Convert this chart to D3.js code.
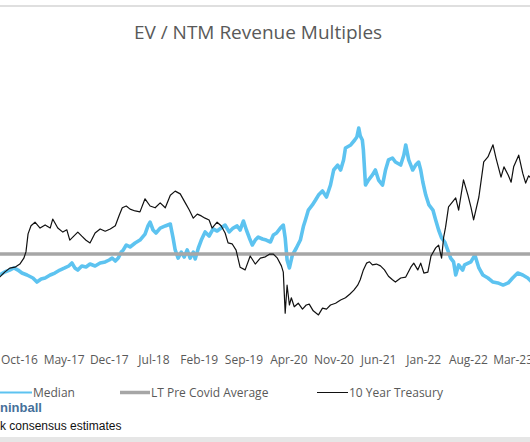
<!DOCTYPE html>
<html><head><meta charset="utf-8">
<script src="https://cdn.jsdelivr.net/npm/d3@7"></script>
<style>body{margin:0;background:#fff;overflow:hidden}svg{display:block}</style>
</head><body><svg id="c" width="530" height="442"></svg>
<script>
// ---- data ----
const medianDates = ["2016-07-02","2016-07-25","2016-08-18","2016-09-07","2016-09-26","2016-10-15","2016-11-08","2016-12-06","2016-12-25","2017-01-14","2017-02-02","2017-02-26","2017-03-20","2017-04-13","2017-05-06","2017-05-25","2017-06-09","2017-06-23","2017-07-07","2017-07-26","2017-08-15","2017-09-03","2017-09-27","2017-10-21","2017-11-14","2017-12-03","2017-12-17","2018-01-01","2018-01-15","2018-01-29","2018-02-08","2018-02-22","2018-03-12","2018-04-05","2018-04-28","2018-05-22","2018-06-05","2018-06-15","2018-06-29","2018-07-13","2018-08-02","2018-08-26","2018-09-19","2018-10-02","2018-10-12","2018-10-26","2018-11-10","2018-11-24","2018-12-08","2018-12-22","2019-01-06","2019-01-15","2019-01-30","2019-02-13","2019-03-03","2019-03-22","2019-04-10","2019-04-29","2019-05-18","2019-06-06","2019-06-25","2019-07-14","2019-08-02","2019-08-16","2019-09-01","2019-09-15","2019-09-29","2019-10-13","2019-10-27","2019-11-10","2019-11-30","2019-12-18","2020-01-07","2020-01-21","2020-02-05","2020-02-23","2020-03-08","2020-03-17","2020-03-26","2020-04-06","2020-04-20","2020-05-09","2020-05-28","2020-06-12","2020-06-21","2020-07-05","2020-07-24","2020-08-08","2020-08-22","2020-09-10","2020-09-29","2020-10-18","2020-11-02","2020-11-21","2020-12-05","2020-12-19","2020-12-28","2021-01-22","2021-02-10","2021-02-20","2021-03-01","2021-03-08","2021-03-18","2021-03-23","2021-04-02","2021-04-16","2021-05-05","2021-05-19","2021-06-03","2021-06-22","2021-07-06","2021-07-20","2021-08-08","2021-08-22","2021-09-16","2021-10-01","2021-10-10","2021-10-24","2021-11-12","2021-11-26","2021-12-10","2021-12-20","2021-12-30","2022-01-13","2022-01-28","2022-02-16","2022-03-01","2022-03-15","2022-03-29","2022-04-13","2022-04-27","2022-05-11","2022-05-25","2022-06-04","2022-06-18","2022-07-07","2022-07-16","2022-08-15","2022-09-03","2022-09-22","2022-10-11","2022-11-04","2022-11-28","2022-12-21","2023-01-15","2023-02-08","2023-03-01","2023-03-25","2023-04-18","2023-05-12","2023-06-01"];
const medianValues = [5.60,5.80,5.93,6.07,5.93,5.73,5.60,5.40,5.13,5.33,5.40,5.60,5.73,5.93,6.07,6.20,6.40,6.07,5.93,6.20,6.13,6.33,6.20,6.40,6.47,6.60,6.73,6.53,6.73,7.13,7.27,7.60,7.47,7.73,7.93,8.33,8.87,9.13,8.60,8.40,8.73,8.87,9.00,8.07,7.27,6.73,7.13,6.80,7.27,6.73,7.13,6.67,7.40,7.93,8.47,8.20,8.67,8.53,8.73,8.93,8.47,8.73,8.87,8.60,9.20,8.60,8.07,7.60,7.93,8.13,8.00,7.93,7.80,8.27,8.40,8.73,8.93,8.07,6.60,6.07,6.93,7.40,7.93,8.87,9.27,9.93,10.27,10.60,10.93,11.20,10.80,11.60,12.60,12.93,12.60,13.27,14.07,14.27,14.60,14.80,15.40,14.87,14.60,13.93,11.60,11.93,12.27,12.60,11.93,11.60,12.60,13.27,13.40,13.13,12.93,13.60,14.27,13.27,12.60,12.93,13.13,12.60,11.80,10.93,10.27,9.93,9.27,8.60,8.07,7.80,7.27,6.73,6.47,5.60,6.27,5.93,6.27,6.47,6.93,6.07,5.60,5.40,5.13,5.07,4.93,5.07,5.40,5.73,5.60,5.40,5.13];

const treasuryDates = ["2016-07-01","2016-07-25","2016-08-18","2016-09-12","2016-10-05","2016-10-24","2016-11-03","2016-11-13","2016-11-27","2016-12-16","2017-01-09","2017-02-02","2017-02-26","2017-03-10","2017-04-03","2017-04-27","2017-05-16","2017-05-30","2017-06-18","2017-07-07","2017-07-26","2017-08-15","2017-09-03","2017-09-27","2017-10-21","2017-11-14","2017-12-08","2018-01-01","2018-01-20","2018-02-03","2018-02-22","2018-03-12","2018-04-05","2018-04-28","2018-05-22","2018-06-15","2018-07-09","2018-08-02","2018-08-26","2018-09-19","2018-10-12","2018-11-05","2018-11-29","2018-12-18","2019-01-06","2019-01-25","2019-02-13","2019-03-03","2019-03-22","2019-04-05","2019-04-29","2019-05-18","2019-06-06","2019-06-20","2019-07-09","2019-07-28","2019-08-16","2019-09-09","2019-10-03","2019-10-27","2019-11-20","2019-12-14","2020-01-02","2020-01-21","2020-02-09","2020-02-28","2020-03-08","2020-03-17","2020-03-26","2020-04-06","2020-04-15","2020-04-29","2020-05-18","2020-06-07","2020-06-25","2020-07-09","2020-07-28","2020-08-22","2020-09-10","2020-09-29","2020-10-18","2020-11-11","2020-12-05","2020-12-28","2021-01-17","2021-02-06","2021-02-24","2021-03-08","2021-03-23","2021-04-07","2021-04-21","2021-05-05","2021-05-24","2021-06-12","2021-07-01","2021-07-20","2021-08-08","2021-08-22","2021-09-16","2021-10-10","2021-11-03","2021-11-17","2021-12-06","2021-12-20","2022-01-04","2022-01-23","2022-02-07","2022-03-01","2022-03-15","2022-03-29","2022-04-08","2022-04-17","2022-05-01","2022-05-20","2022-06-04","2022-06-18","2022-07-11","2022-08-01","2022-08-15","2022-08-28","2022-09-22","2022-10-15","2022-11-04","2022-11-28","2022-12-12","2023-01-05","2023-01-19","2023-02-08","2023-02-22","2023-03-06","2023-03-30","2023-04-18","2023-05-02","2023-05-16","2023-06-01"];
const treasuryValues = [1.32,1.43,1.52,1.54,1.61,1.74,1.88,2.28,2.46,2.54,2.41,2.48,2.41,2.61,2.41,2.32,2.37,2.14,2.23,2.32,2.23,2.14,2.08,2.30,2.39,2.34,2.39,2.46,2.70,2.86,2.90,2.83,2.79,2.77,3.06,2.90,2.86,2.97,2.86,3.14,3.23,3.17,2.97,2.81,2.63,2.72,2.68,2.63,2.59,2.41,2.54,2.46,2.30,2.08,2.06,1.92,1.54,1.48,1.79,1.61,1.74,1.77,1.83,1.83,1.74,1.57,1.43,0.52,1.14,0.70,0.86,0.66,0.74,0.61,0.70,0.72,0.57,0.48,0.63,0.61,0.70,0.74,0.81,0.86,0.94,1.03,1.14,1.26,1.48,1.63,1.66,1.59,1.61,1.57,1.48,1.34,1.26,1.21,1.30,1.32,1.54,1.63,1.48,1.63,1.41,1.43,1.79,1.97,2.03,1.74,2.21,2.43,2.88,2.99,3.08,2.81,3.48,3.14,2.88,2.59,3.10,3.88,3.99,4.26,3.97,3.54,3.77,3.59,3.43,3.77,4.03,3.63,3.41,3.57,3.50];

const ltPreCovidAverage = 7.0;
const ltDates = ["2016-07-01","2023-06-01"];

const tickDates = ["2016-10-01","2017-05-01","2017-12-01","2018-07-01","2019-02-01","2019-09-01","2020-04-01","2020-11-01","2021-06-01","2022-01-01","2022-08-01","2023-03-01"];
const tickLabels = ["Oct-16","May-17","Dec-17","Jul-18","Feb-19","Sep-19","Apr-20","Nov-20","Jun-21","Jan-22","Aug-22","Mar-23"];

const seriesNames = ["Median","LT Pre Covid Average","10 Year Treasury"];
const titleText = "EV / NTM Revenue Multiples";
const sourceAuthor = "ninball";
const sourceNote = "k consensus estimates";

// ---- drawing ----
const parse = d3.utcParse("%Y-%m-%d");
const svg = d3.select("#c");
const W = 530, H = 442;
const colors = {median:"#5DC3F0", lt:"#A6A6A6", tr:"#111111", text:"#595959"};
const font = "'Open Sans', sans-serif";

svg.append("rect").attr("width",W).attr("height",H).attr("fill","#fff");
svg.append("line").attr("x1",0).attr("x2",W).attr("y1",6).attr("y2",6)
  .attr("stroke","#d4d4d4").attr("stroke-width",1.5);
svg.append("rect").attr("x",0).attr("y",437).attr("width",W).attr("height",H-437).attr("fill","#e6e6e6");

const x = d3.scaleUtc().domain([parse("2016-10-01"), parse("2023-03-01")]).range([19, 512.6]);
const yL = d3.scaleLinear().domain([0,18]).range([359, 89]);
const yR = d3.scaleLinear().domain([-0.5,5.5]).range([359, 89]);

svg.append("text").attr("x",258).attr("y",39).attr("text-anchor","middle")
  .attr("font-family",font).attr("font-size",19).attr("fill",colors.text).text(titleText);

const median = medianDates.map((d,i)=>({d:parse(d), v:medianValues[i]}));
const treasury = treasuryDates.map((d,i)=>({d:parse(d), v:treasuryValues[i]}));
const lt = ltDates.map(d=>({d:parse(d), v:ltPreCovidAverage}));

const lineL = d3.line().x(p=>x(p.d)).y(p=>yL(p.v));
const lineR = d3.line().x(p=>x(p.d)).y(p=>yR(p.v));

svg.append("path").datum(median).attr("d",lineL).attr("fill","none")
  .attr("stroke",colors.median).attr("stroke-width",3.6).attr("stroke-linejoin","round");
svg.append("path").datum(lt).attr("d",lineL).attr("fill","none")
  .attr("stroke",colors.lt).attr("stroke-width",3.5);
svg.append("path").datum(treasury).attr("d",lineR).attr("fill","none")
  .attr("stroke",colors.tr).attr("stroke-width",1.2).attr("stroke-linejoin","round");

const axis = d3.axisBottom(x).tickValues(tickDates.map(parse))
  .tickFormat((d,i)=>tickLabels[i]).tickSize(0).tickPadding(3);
const gx = svg.append("g").attr("transform","translate(0,352.5)").call(axis);
gx.select(".domain").remove();
gx.selectAll("text").attr("font-family",font).attr("font-size",12).attr("fill",colors.text);

const legend = [
  {name:seriesNames[0], x1:0, x2:32, color:colors.median, w:2},
  {name:seriesNames[1], x1:120, x2:150, color:colors.lt, w:3.5},
  {name:seriesNames[2], x1:317, x2:348, color:colors.tr, w:1}
];
const lg = svg.append("g");
legend.forEach(l=>{
  lg.append("line").attr("x1",l.x1).attr("x2",l.x2).attr("y1",392.5).attr("y2",392.5)
    .attr("stroke",l.color).attr("stroke-width",l.w);
  lg.append("text").attr("x",l.x2+1).attr("y",397).attr("font-family",font).attr("font-size",12)
    .attr("fill",colors.text).text(l.name);
});

svg.append("text").attr("x",0).attr("y",412).attr("font-family","'Liberation Sans', Arial, sans-serif")
  .attr("font-weight","bold").attr("font-size",13).attr("fill","#46709a").text(sourceAuthor);
svg.append("text").attr("x",0).attr("y",430).attr("font-family","'Liberation Sans', Arial, sans-serif")
  .attr("font-size",12).attr("fill","#111").text(sourceNote);
</script></body></html>
